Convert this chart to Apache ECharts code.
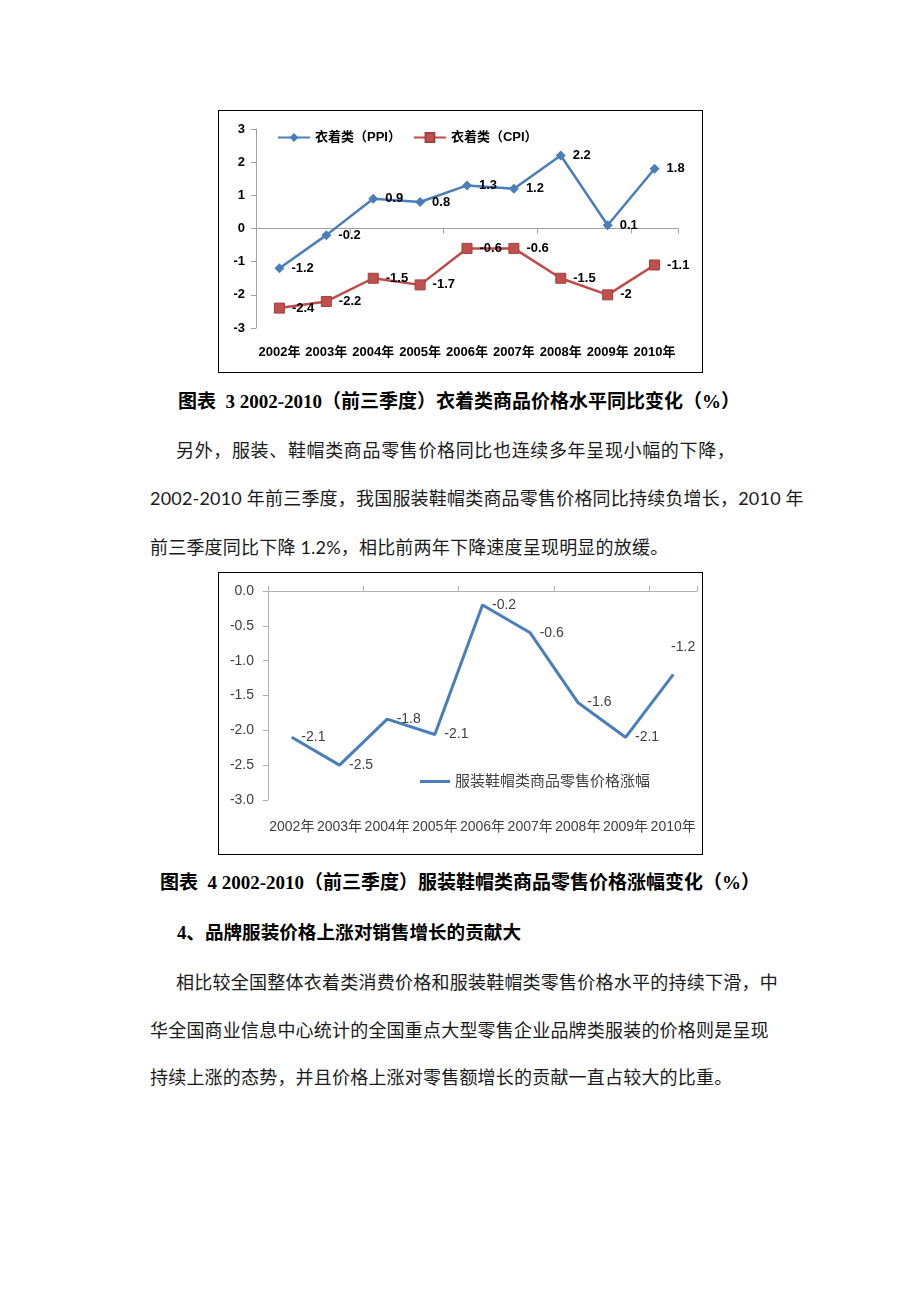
<!DOCTYPE html>
<html><head><meta charset="utf-8">
<script src="https://cdn.jsdelivr.net/npm/echarts@6/dist/echarts.min.js"></script>
<style>
html,body{margin:0;padding:0;background:#fff;}
#page{position:relative;width:920px;height:1302px;overflow:hidden;background:#fff;}
.box{position:absolute;border:1px solid #000;box-sizing:border-box;}
.chart{position:absolute;left:0;top:0;}
.t{position:absolute;white-space:nowrap;font-size:18px;line-height:24px;color:#1a1a1a;font-family:'Lato','Noto Sans CJK SC',sans-serif;letter-spacing:0.2px;}
.j{text-align:justify;text-align-last:justify;}
.cap{font-family:'Liberation Serif','Noto Sans CJK SC',serif;font-weight:bold;color:#000;letter-spacing:0;font-size:19px;}
</style></head>
<body><div id="page">
<div class="box" style="left:218px;top:110px;width:485px;height:263px;"><div id="c1" class="chart" style="width:483px;height:261px;"></div></div>
<div class="t cap" style="left:178px;top:390px;">图表&nbsp;&nbsp;3 2002-2010（前三季度）衣着类商品价格水平同比变化（%）</div>
<div class="t j" style="left:176px;top:438px;width:559px;">另外，服装、鞋帽类商品零售价格同比也连续多年呈现小幅的下降，</div>
<div class="t j" style="left:150px;top:486px;width:627px;">2002-2010 年前三季度，我国服装鞋帽类商品零售价格同比持续负增长，2010 年</div>
<div class="t" style="left:150px;top:535px;">前三季度同比下降 1.2%，相比前两年下降速度呈现明显的放缓。</div>
<div class="box" style="left:218px;top:572px;width:485px;height:283px;"><div id="c2" class="chart" style="width:483px;height:281px;"></div></div>
<div class="t cap" style="left:160px;top:871px;">图表&nbsp;&nbsp;4 2002-2010（前三季度）服装鞋帽类商品零售价格涨幅变化（%）</div>
<div class="t cap" style="left:177px;top:921px;font-size:18.6px;">4、品牌服装价格上涨对销售增长的贡献大</div>
<div class="t j" style="left:176px;top:970px;width:602px;">相比较全国整体衣着类消费价格和服装鞋帽类零售价格水平的持续下滑，中</div>
<div class="t j" style="left:150px;top:1018px;width:618px;">华全国商业信息中心统计的全国重点大型零售企业品牌类服装的价格则是呈现</div>
<div class="t" style="left:150px;top:1065px;">持续上涨的态势，并且价格上涨对零售额增长的贡献一直占较大的比重。</div>
</div>
<script>
// ---- data ----
const years = ['2002年','2003年','2004年','2005年','2006年','2007年','2008年','2009年','2010年'];
const ppiName = '衣着类（PPI）';
const cpiName = '衣着类（CPI）';
const ppi = [-1.2, -0.2, 0.9, 0.8, 1.3, 1.2, 2.2, 0.1, 1.8];
const cpi = [-2.4, -2.2, -1.5, -1.7, -0.6, -0.6, -1.5, -2, -1.1];
const retailName = '服装鞋帽类商品零售价格涨幅';
const retail = [-2.1, -2.5, -1.84, -2.06, -0.2, -0.6, -1.6, -2.1, -1.2];

const latin = "'Liberation Sans','Noto Sans CJK SC',sans-serif";

// ---- chart 1 ----
const c1 = echarts.init(document.getElementById('c1'));
const lbl1 = {show:true,position:'right',distance:7,fontSize:13,fontWeight:'bold',color:'#000',fontFamily:latin};
c1.setOption({
  animation:false,
  grid:{left:37,right:24,top:18,bottom:44},
  legend:{
    data:[ppiName,cpiName], left:58, top:20, padding:0, itemWidth:32, itemHeight:11, itemGap:12,
    textStyle:{fontSize:13,fontWeight:'bold',color:'#000',fontFamily:latin}
  },
  xAxis:[
    {type:'category',data:years,position:'bottom',
     axisLine:{onZero:true,lineStyle:{color:'#a0a0a0'}},
     axisTick:{show:true,length:5,lineStyle:{color:'#a0a0a0'}},
     axisLabel:{show:false}},
    {type:'category',data:years,position:'bottom',
     axisLine:{show:false,onZero:false},axisTick:{show:false},
     axisLabel:{interval:0,fontSize:13,fontWeight:'bold',color:'#000',margin:18,fontFamily:latin}}
  ],
  yAxis:{type:'value',min:-3,max:3,interval:1,
    axisLine:{show:true,lineStyle:{color:'#a0a0a0'}},
    axisTick:{show:true,length:5,lineStyle:{color:'#a0a0a0'}},
    splitLine:{show:false},
    axisLabel:{fontSize:13,fontWeight:'bold',color:'#000',margin:11,fontFamily:latin}},
  series:[
    {name:ppiName,type:'line',data:ppi,xAxisIndex:0,
     symbol:'diamond',symbolSize:10,
     lineStyle:{width:2.5,color:'#4A7EBB'},itemStyle:{color:'#4A7EBB'},
     label:lbl1},
    {name:cpiName,type:'line',data:cpi,xAxisIndex:0,
     symbol:'rect',symbolSize:10,
     lineStyle:{width:2.5,color:'#BE4B48'},itemStyle:{color:'#C0504D',borderColor:'#A33F3C',borderWidth:1},
     label:lbl1}
  ]
});

// ---- chart 2 ----
const c2 = echarts.init(document.getElementById('c2'));
c2.setOption({
  animation:false,
  grid:{left:49,right:5,top:18,bottom:54},
  legend:{
    data:[retailName], left:201, top:201, padding:0, icon:'rect', itemWidth:30, itemHeight:3,
    textStyle:{fontSize:15,color:'#404040',fontFamily:latin}
  },
  xAxis:[
    {type:'category',data:years,position:'top',
     axisLine:{onZero:false,lineStyle:{color:'#b0b0b0'}},
     axisTick:{show:true,length:5,lineStyle:{color:'#b0b0b0'}},
     axisLabel:{show:false}},
    {type:'category',data:years,position:'bottom',
     axisLine:{show:false,onZero:false},axisTick:{show:false},
     axisLabel:{interval:0,fontSize:14,color:'#404040',margin:20,fontFamily:latin}}
  ],
  yAxis:{type:'value',min:-3,max:0,interval:0.5,
    axisLine:{show:true,lineStyle:{color:'#b0b0b0'}},
    axisTick:{show:true,length:5,lineStyle:{color:'#b0b0b0'}},
    splitLine:{show:false},
    axisLabel:{fontSize:14,color:'#404040',margin:14,fontFamily:latin,formatter:v=>v.toFixed(1)}},
  series:[
    {name:retailName,type:'line',xAxisIndex:0,symbol:'circle',symbolSize:1,showSymbol:true,
     lineStyle:{width:3,color:'#4A7EBB'},itemStyle:{color:'#4A7EBB'},
     label:{show:true,position:'right',distance:9,fontSize:14,color:'#404040',fontFamily:latin,
       formatter:p=>p.value.toFixed(1)},
     data: retail.map((v,i)=> i===retail.length-1 ? {value:v,label:{position:'top',distance:20,offset:[10,0]}} : v)}
  ]
});
</script>
</body></html>
